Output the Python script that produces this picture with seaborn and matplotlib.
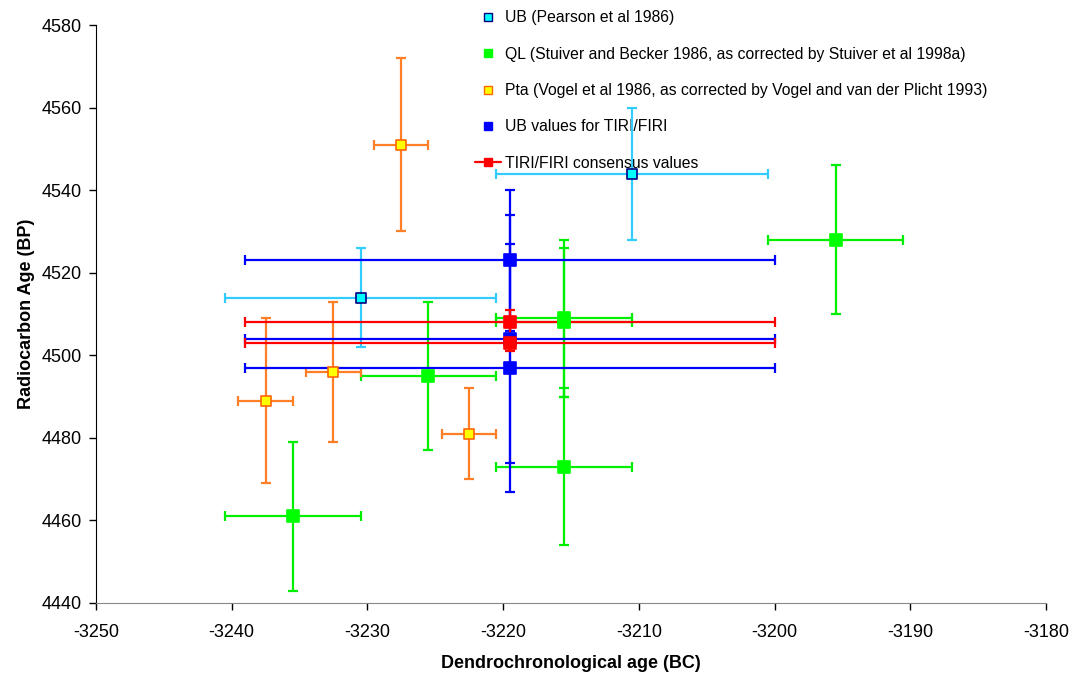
import numpy as np
import pandas as pd
import matplotlib
matplotlib.use("Agg")
import matplotlib.pyplot as plt
import seaborn as sns
from matplotlib.lines import Line2D

# UB (Pearson et al 1986)
ub_x = [-3230.5, -3210.5]
ub_y = [4514, 4544]
ub_xerr = [10, 10]
ub_yerr = [12, 16]

# QL (Stuiver and Becker 1986, corrected)
ql_x = [-3235.5, -3225.5, -3215.5, -3215.5, -3215.5, -3195.5]
ql_y = [4461, 4495, 4509, 4508, 4473, 4528]
ql_xerr = [5, 5, 5, 5, 5, 5]
ql_yerr = [18, 18, 19, 18, 19, 18]

# Pta (Vogel et al 1986, corrected)
pta_x = [-3237.5, -3232.5, -3227.5, -3222.5]
pta_y = [4489, 4496, 4551, 4481]
pta_xerr = [2, 2, 2, 2]
pta_yerr = [20, 17, 21, 11]

# UB values for TIRI/FIRI
ubt_x = [-3219.5, -3219.5, -3219.5]
ubt_y = [4523, 4504, 4497]
ubt_xerr = [19.5, 19.5, 19.5]
ubt_yerr = [17, 30, 30]

# TIRI/FIRI consensus values
cons_x = [-3219.5, -3219.5]
cons_y = [4508, 4503]
cons_xerr = [19.5, 19.5]
cons_yerr = [3, 2]

labels = [
    "UB (Pearson et al 1986)",
    "QL (Stuiver and Becker 1986, as corrected by Stuiver et al 1998a)",
    "Pta (Vogel et al 1986, as corrected by Vogel and van der Plicht 1993)",
    "UB values for TIRI/FIRI",
    "TIRI/FIRI consensus values",
]

sns.set_style("white")
plt.rcParams["font.family"] = ["Liberation Sans", "DejaVu Sans"]
plt.rcParams["axes.unicode_minus"] = False
plt.rcParams["text.color"] = "black"
plt.rcParams["axes.labelcolor"] = "black"

fig = plt.figure(figsize=(10.89, 6.79), dpi=100)
ax = fig.add_axes([0.088, 0.112, 0.8725, 0.851])

series = [
    (ub_x, ub_y, ub_xerr, ub_yerr, "#33CCFF", "#00FFFF", "#000080", 7),
    (ql_x, ql_y, ql_xerr, ql_yerr, "#00EE00", "#00FF00", "#00FF00", 9),
    (pta_x, pta_y, pta_xerr, pta_yerr, "#FF7F27", "#FFFF00", "#FF6600", 7),
    (ubt_x, ubt_y, ubt_xerr, ubt_yerr, "#0000FF", "#0000FF", "#0000FF", 9),
    (cons_x, cons_y, cons_xerr, cons_yerr, "#FF0000", "#FF0000", "#FF0000", 9),
]

for i, (x, y, xe, ye, lc, fc, ec, ms) in enumerate(series):
    ax.errorbar(x, y, xerr=xe, yerr=ye, fmt="none", ecolor=lc,
                elinewidth=1.6, capsize=3.5, capthick=1.6, zorder=3 + i)
    df = pd.DataFrame({"x": x, "y": y})
    sns.scatterplot(data=df, x="x", y="y", ax=ax, marker="s", s=ms ** 2,
                    color=fc, edgecolor=ec, linewidth=1.2, zorder=10 + i,
                    legend=False)

ax.set_xlim(-3250, -3180)
ax.set_ylim(4440, 4580)
ax.set_xticks(np.arange(-3250, -3179, 10))
ax.set_yticks(np.arange(4440, 4581, 20))
ax.tick_params(axis="both", labelsize=13, length=5, width=1, direction="out",
               bottom=True, left=True, colors="black")
ax.tick_params(axis="x", pad=10)
ax.tick_params(axis="y", pad=5)
for s in ["top", "right"]:
    ax.spines[s].set_visible(False)
ax.spines["left"].set_color("black")
ax.spines["bottom"].set_color("#888888")
ax.set_xlabel("Dendrochronological age (BC)", fontsize=13, fontweight="bold", labelpad=10)
ax.set_ylabel("Radiocarbon Age (BP)", fontsize=13, fontweight="bold", labelpad=5)

handles = [
    Line2D([], [], ls="none", marker="s", ms=6, mfc="#00FFFF", mec="#000080"),
    Line2D([], [], ls="none", marker="s", ms=6, mfc="#00FF00", mec="#00FF00"),
    Line2D([], [], ls="none", marker="s", ms=6, mfc="#FFFF00", mec="#FF6600"),
    Line2D([], [], ls="none", marker="s", ms=6, mfc="#0000FF", mec="#0000FF"),
    Line2D([], [], color="#FF0000", lw=1.6, marker="s", ms=6, mfc="#FF0000", mec="#FF0000"),
]
leg = ax.legend(handles, labels, loc="upper left", bbox_to_anchor=(0.396, 1.031),
                frameon=False, fontsize=11.3, labelspacing=1.36, handlelength=1.67,
                handletextpad=0.25, borderpad=0.2, borderaxespad=0)
leg.set_zorder(1)

fig.savefig("out.png", dpi=100)
